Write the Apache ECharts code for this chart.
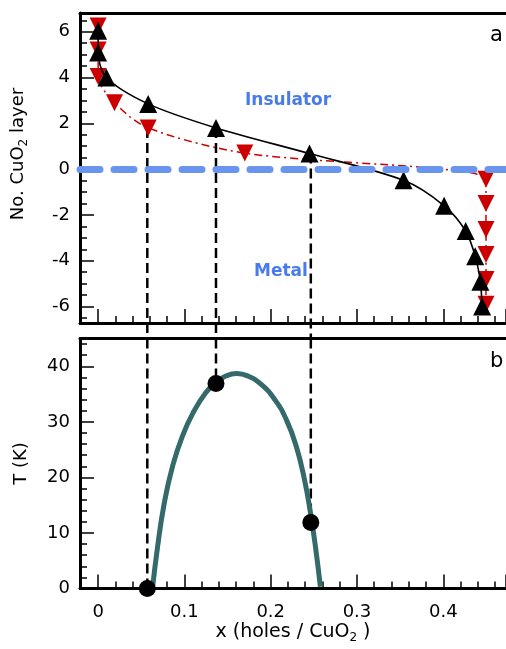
<!DOCTYPE html>
<html>
<head>
<meta charset="utf-8">
<script src="https://cdn.jsdelivr.net/npm/echarts@6/dist/echarts.min.js"></script>
<style>html,body{margin:0;padding:0;background:#fff;}#c{width:506px;height:649px;}</style>
</head>
<body>
<div id="c"></div>
<script>
// ---- data ----
const blackX = [0, 0, 0.0096, 0.058, 0.1366, 0.245, 0.354, 0.401, 0.426, 0.437, 0.443, 0.445];
const blackY = [6.05, 5.1, 4.0, 2.85, 1.8, 0.68, -0.49, -1.6, -2.7, -3.8, -4.92, -6.0];
const redX = [0, 0, 0, 0.019, 0.058, 0.17, 0.4495, 0.4495, 0.4495, 0.4495, 0.4495, 0.4495];
const redY = [6.25, 5.2, 4.05, 2.9, 1.8, 0.7, -0.44, -1.5, -2.64, -3.73, -4.82, -5.9];
const tcX = [0.063, 0.0689, 0.0766, 0.0861, 0.0976, 0.111, 0.1245, 0.1359, 0.1474, 0.1607, 0.1742, 0.1894, 0.2048, 0.2181, 0.2296, 0.2393, 0.2462, 0.2519, 0.2576];
const tcY = [0, 7.5, 15.3, 21.9, 27.4, 31.9, 35.2, 37.0, 38.2, 38.7, 38.2, 36.7, 34.0, 30.4, 25.6, 19.5, 13.5, 7.5, 0.3];
const dotX = [0.057, 0.1366, 0.2465];
const dotT = [0, 36.9, 11.9];
const dropStartY = [1.8, 1.8, 0.68];   // layer value where each guide line starts
const xRange = [-0.021, 0.4727];
const layerRange = [-6.72, 6.82];
const tRange = [0, 45];

const zip = (a, b) => a.map((v, i) => [v, b[i]]);
const FONT = 'DejaVu Sans';
const xFmt = v => Math.abs(v) < 1e-9 ? '0' : String(+v.toFixed(2));

function tick() { return {show: true, inside: true, length: 14, lineStyle: {color: '#000', width: 1.5}}; }
function minor(n) { return {show: true, splitNumber: n, length: 7, lineStyle: {color: '#000', width: 1.5}}; }
function aLine() { return {show: true, onZero: false, lineStyle: {color: '#000', width: 3}}; }
function topAxis(g) {
  return {type: 'value', gridIndex: g, position: 'top', min: xRange[0], max: xRange[1],
    axisLine: aLine(), axisTick: {show: false}, minorTick: {show: false}, splitLine: {show: false}, axisLabel: {show: false}};
}

const guideTop = dotX.map((x, i) => ({
  type: 'line', xAxisIndex: 0, yAxisIndex: 0, clip: false, symbol: 'none', silent: true,
  data: [[x, dropStartY[i]], [x, -7.45]],
  lineStyle: {color: '#000', width: 2.5, type: [10, 5]}, z: 1
}));
const guideBot = dotX.map((x, i) => ({
  type: 'line', xAxisIndex: 1, yAxisIndex: 1, clip: false, symbol: 'none', silent: true,
  data: [[x, 45], [x, dotT[i]]],
  lineStyle: {color: '#000', width: 2.5, type: [10, 5]}, z: 1
}));
const subRich = (fs) => ({
  n: {fontSize: fs, fontFamily: FONT, color: '#000', lineHeight: 23},
  s: {fontSize: 12, fontFamily: FONT, color: '#000', verticalAlign: 'bottom', lineHeight: 12}
});

const option = {
  animation: false,
  textStyle: {fontFamily: FONT},
  grid: [
    {left: 80, top: 13, right: -4, height: 310, show: false},
    {left: 80, top: 338.5, right: -4, height: 250, show: false}
  ],
  xAxis: [
    {type: 'value', gridIndex: 0, min: xRange[0], max: xRange[1], minInterval: 0.1, maxInterval: 0.1, splitNumber: 5,
     axisLine: aLine(), axisTick: tick(), minorTick: minor(5), splitLine: {show: false}, axisLabel: {show: false}},
    {type: 'value', gridIndex: 1, min: xRange[0], max: xRange[1], minInterval: 0.1, maxInterval: 0.1, splitNumber: 5,
     axisLine: aLine(), axisTick: tick(), minorTick: minor(5), splitLine: {show: false},
     axisLabel: {show: true, color: '#000', fontSize: 18, fontFamily: FONT, margin: 15, showMinLabel: false, showMaxLabel: false, formatter: xFmt},
     name: '{n|x (holes / CuO}{s|2}{n| )}', nameLocation: 'middle', nameGap: 32,
     nameTextStyle: {color: '#000', fontFamily: FONT, rich: subRich(19)}},
    topAxis(0),
    topAxis(1)
  ],
  yAxis: [
    {type: 'value', gridIndex: 0, min: layerRange[0], max: layerRange[1], minInterval: 2, maxInterval: 2, splitNumber: 7,
     axisLine: aLine(), axisTick: tick(), minorTick: minor(4), splitLine: {show: false},
     axisLabel: {show: true, color: '#000', fontSize: 18, fontFamily: FONT, margin: 10, showMinLabel: false, showMaxLabel: false},
     name: '{n|No. CuO}{s|2}{n| layer}', nameLocation: 'middle', nameRotate: 90, nameGap: 50,
     nameTextStyle: {color: '#000', fontFamily: FONT, padding: [0, 0, 0, 28], rich: subRich(18)}},
    {type: 'value', gridIndex: 1, min: tRange[0], max: tRange[1], interval: 10,
     axisLine: aLine(), axisTick: tick(), minorTick: minor(5), splitLine: {show: false},
     axisLabel: {show: true, color: '#000', fontSize: 18, fontFamily: FONT, margin: 10, showMaxLabel: false},
     name: 'T (K)', nameLocation: 'middle', nameRotate: 90, nameGap: 50,
     nameTextStyle: {color: '#000', fontFamily: FONT, fontSize: 18}}
  ],
  graphic: [
    {type: 'text', left: 490, top: 25, style: {text: 'a', font: '21px "DejaVu Sans"', fill: '#000'}},
    {type: 'text', left: 490, top: 351, style: {text: 'b', font: '21px "DejaVu Sans"', fill: '#000'}},
    {type: 'text', left: 245, top: 92, style: {text: 'Insulator', font: 'bold 17px "DejaVu Sans"', fill: '#4a7bea'}},
    {type: 'text', left: 254, top: 263, style: {text: 'Metal', font: 'bold 17px "DejaVu Sans"', fill: '#4a7bea'}}
  ],
  series: [
    ...guideTop,
    ...guideBot,
    {type: 'line', xAxisIndex: 0, yAxisIndex: 0, silent: true, symbol: 'none', data: [],
     markLine: {silent: true, symbol: 'none', label: {show: false},
       lineStyle: {color: '#6a95ee', width: 7, type: [20, 14], cap: 'round'},
       data: [{yAxis: 0}]}, z: 2},
    {type: 'line', xAxisIndex: 0, yAxisIndex: 0, data: zip(redX, redY), smooth: 0.3,
     symbol: 'triangle', symbolRotate: 180, symbolSize: 17,
     itemStyle: {color: '#cc0000'}, lineStyle: {color: '#cc0000', width: 1.5, type: [8, 4, 2, 4]}, z: 3},
    {type: 'line', xAxisIndex: 0, yAxisIndex: 0, data: zip(blackX, blackY), smooth: 0.3,
     symbol: 'triangle', symbolSize: 18,
     itemStyle: {color: '#000'}, lineStyle: {color: '#000', width: 1.6}, z: 4},
    {type: 'line', xAxisIndex: 1, yAxisIndex: 1, data: zip(tcX, tcY), smooth: true, symbol: 'none',
     lineStyle: {color: '#356a6a', width: 5}, z: 3},
    {type: 'scatter', xAxisIndex: 1, yAxisIndex: 1, data: zip(dotX, dotT), symbol: 'circle', symbolSize: 17,
     itemStyle: {color: '#000', opacity: 1}, clip: false, z: 5}
  ]
};
const chart = echarts.init(document.getElementById('c'), null, {renderer: 'canvas'});
chart.setOption(option);
</script>
</body>
</html>
